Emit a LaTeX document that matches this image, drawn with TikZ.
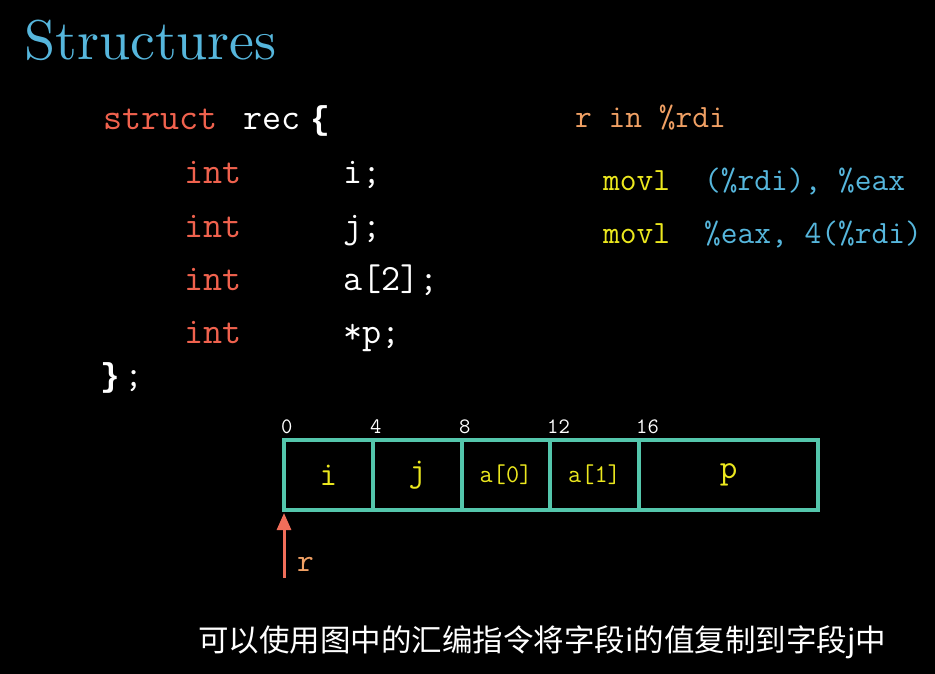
\documentclass[tikz,border=0pt]{standalone}
\usepackage{fontspec}
\newfontfamily\titlefont{lmroman10-regular}[Extension=.otf]
\newfontfamily\bracefont{Liberation Mono}
\newfontfamily\cjkfont{Noto Sans CJK SC}
\usetikzlibrary{arrows.meta}

\definecolor{titleblue}{RGB}{86,182,220}
\definecolor{kwred}{RGB}{240,98,78}
\definecolor{regorange}{RGB}{240,160,100}
\definecolor{opyellow}{RGB}{236,232,30}
\definecolor{argblue}{RGB}{86,182,220}
\definecolor{cellteal}{RGB}{84,198,172}
\definecolor{ptrred}{RGB}{240,110,90}

\newcommand{\fsz}[1]{\fontsize{#1}{#1}\selectfont}

\tikzset{
  x=1pt, y=-1pt,
  code/.style={anchor=base west, inner sep=0pt, text=white, font=\ttfamily\fsz{37}},
  kw/.style={code, text=kwred},
  brace/.style={code, font=\bracefont\bfseries\fsz{33}},
  asm/.style={anchor=base west, inner sep=0pt, font=\ttfamily\fsz{32.5}},
  offs/.style={anchor=base west, inner sep=0pt, text=white, font=\ttfamily\fsz{22}},
  cell/.style={draw=cellteal, line width=3.2pt, anchor=north west, minimum height=70pt,
    inner sep=0pt, outer sep=0pt, text=opyellow, font=\ttfamily\fsz{34}},
  smallcell/.style={cell, font=\ttfamily\fsz{25.5}},
  ptr/.style={draw=ptrred, line width=3pt, -{Triangle[width=14pt,length=17pt]}},
}

\begin{document}
\begin{tikzpicture}
  \useasboundingbox[fill=black] (0,0) rectangle (935,674);

  % heading
  \node[anchor=base west, inner sep=0pt, text=titleblue, font=\titlefont\fsz{56}] (title) at (24,60) {Structures};

  % C declaration
  \node[kw] (kstruct) at (103,130) {struct};
  \node[code] (recname) at (243,130) {rec};
  \node[brace] (lbrace) at (310,130) {\{};
  \node[kw] (k1) at (184,183) {int};
  \node[code] (m1) at (343,183) {i;};
  \node[kw] (k2) at (184,237) {int};
  \node[code] (m2) at (343,237) {j;};
  \node[kw] (k3) at (184,290) {int};
  \node[code] (m3) at (343,290) {a[2];};
  \node[kw] (k4) at (184,343) {int};
  \node[code] (m4) at (343,343) {*p;};
  \node[brace] (rbrace) at (100,386) {\}};
  \node[code] (semi) at (124,386) {;};

  % assembly
  \node[asm, text=regorange] (rin) at (575,128) {r in \%rdi};
  \node[asm, text=opyellow] (op1) at (603,190) {movl};
  \node[asm, text=argblue] (arg1) at (704,190) {(\%rdi), \%eax};
  \node[asm, text=opyellow] (op2) at (603,243) {movl};
  \node[asm, text=argblue] (arg2) at (704,243) {\%eax, 4(\%rdi)};

  % memory layout
  \node[cell, minimum width=89pt] (cI) at (284,440) {i};
  \node[cell, minimum width=89pt] (cJ) at (373,440) {j};
  \node[smallcell, minimum width=88pt] (cA0) at (462,440) {a[0]};
  \node[smallcell, minimum width=89pt] (cA1) at (550,440) {a[1]};
  \node[cell, minimum width=179pt] (cP) at (639,440) {p};

  \node[offs] (o0) at (281,433) {0};
  \node[offs] (o4) at (370,433) {4};
  \node[offs] (o8) at (459,433) {8};
  \node[offs] (o12) at (547,433) {12};
  \node[offs] (o16) at (636,433) {16};

  % pointer r
  \coordinate (rtail) at (284,578);
  \draw[ptr, shorten >=3pt] (rtail) -- (cI.south west);
  \node[asm, text=regorange] (rlabel) at (297,571) {r};

  % caption
  \node[anchor=base, inner sep=0pt, text=white, font=\cjkfont\fsz{30.5}] (caption) at (542,651)
    {可以使用图中的汇编指令将字段i的值复制到字段j中};
\end{tikzpicture}
\end{document}
